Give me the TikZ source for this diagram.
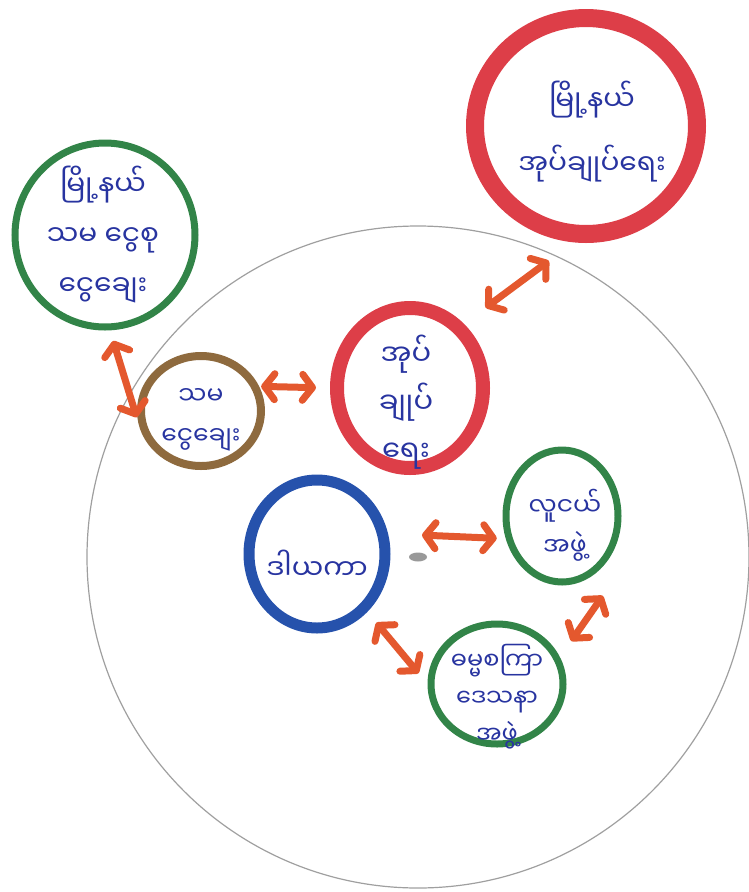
\documentclass[tikz,border=0pt]{standalone}
\usepackage{fontspec}
\newfontfamily\mya[Script=Myanmar]{Noto Sans Myanmar UI}
\usepackage{xcolor}
\usetikzlibrary{shapes.geometric,arrows.meta}

\definecolor{pengreen}{RGB}{50,132,72}
\definecolor{penred}{RGB}{221,62,72}
\definecolor{penbrown}{RGB}{142,106,62}
\definecolor{penblue}{RGB}{38,82,172}
\definecolor{ink}{RGB}{40,52,160}
\definecolor{penorange}{RGB}{228,88,46}

\tikzset{
	grp/.style={shape=ellipse, draw, inner sep=0pt},
	lbl/.style 2 args={font=\mya\fontsize{#1}{#2}\selectfont, text=ink, align=center, inner sep=0pt},
	arr/.style={draw=penorange, line width=7pt, line cap=round,
		{Straight Barb[length=10pt,width=26pt,round]}-{Straight Barb[length=10pt,width=26pt,round]}},
}

\begin{document}
\begin{tikzpicture}[x=1pt, y=-1pt]
			\useasboundingbox (0,0) rectangle (748,892);
			\node[name=wheel, shape=circle, draw=gray!75, line width=1.2pt, minimum size=662pt, inner sep=0pt] at (418,557) {};
			\node[name=dot, shape=ellipse, fill=gray!80, minimum width=18pt, minimum height=9pt, inner sep=0pt] at (wheel.center) {};
			% groups
			\node[name=tl, grp, draw=pengreen, line width=7pt, minimum width=180pt, minimum height=184pt] at (105,235) {};
			\node[name=tr, grp, draw=penred, line width=18pt, minimum width=222pt, minimum height=216pt] at (586,126) {};
			\node[name=brw, grp, draw=penbrown, line width=8pt, minimum width=120pt, minimum height=110pt] at (201,411) {};
			\node[name=mid, grp, draw=penred, line width=14pt, minimum width=146pt, minimum height=160pt] at (410,388) {};
			\node[name=blu, grp, draw=penblue, line width=11pt, minimum width=136pt, minimum height=148pt] at (317,554) {};
			\node[name=grr, grp, draw=pengreen, line width=7pt, minimum width=112pt, minimum height=132pt] at (562,516) {};
			\node[name=grb, grp, draw=pengreen, line width=7pt, minimum width=132pt, minimum height=120pt] at (497,684) {};
			% labels
			\node[name=tl-t, lbl={28pt}{50pt}] at ([xshift=-2pt]tl.center) {မြို့နယ်\\သမ ငွေစု\\ငွေချေး};
			\node[name=tr-t, lbl={28pt}{64pt}] at ([xshift=6pt, yshift=-6pt]tr.center) {မြို့နယ်\\အုပ်ချုပ်ရေး};
			\node[name=brw-t, lbl={25pt}{40pt}] at ([yshift=-9pt]brw.center) {သမ\\ငွေချေး};
			\node[name=mid-t, lbl={29pt}{48pt}] at ([xshift=-4pt, yshift=-14pt]mid.center) {အုပ်\\ချုပ်\\ရေး};
			\node[name=blu-t, lbl={28pt}{40pt}] at ([yshift=-11pt]blu.center) {ဒါယကာ};
			\node[name=grr-t, lbl={25pt}{40pt}] at ([xshift=3pt, yshift=-9pt]grr.center) {လူငယ်\\အဖွဲ့};
			\node[name=grb-t, lbl={24pt}{37pt}] at ([yshift=-13pt]grb.center) {ဓမ္မစကြာ\\ဒေသနာ\\အဖွဲ့};
			% links
			\draw[arr, shorten <=11pt, shorten >=5pt] (tl.-87) -- (brw.190);
			\draw[arr, shorten <=2pt, shorten >=14pt] (brw.23) -- (mid.180);
			\draw[arr, shorten <=27pt, shorten >=31pt] (mid.50) -- (tr.264);
			\draw[arr, shorten <=34pt, shorten >=9pt] (blu.16) -- (grr.202);
			\draw[arr, shorten <=14pt, shorten >=14pt] (blu.-49) -- (grb.180);
			\draw[arr, shorten <=27pt] ([xshift=23pt]grr.-60) -- ([xshift=23pt]grb.40);
		\end{tikzpicture}
\end{document}
